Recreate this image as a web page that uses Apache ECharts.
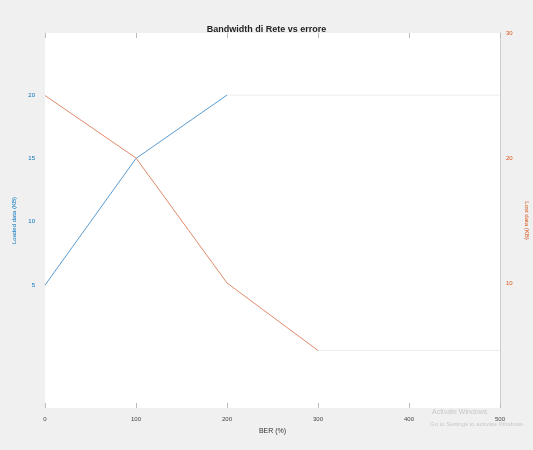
<!DOCTYPE html>
<html><head><meta charset="utf-8">
<script src="https://cdn.jsdelivr.net/npm/echarts@6/dist/echarts.min.js"></script>
<style>html,body{margin:0;padding:0;background:#f0f0f0}#c{width:533px;height:450px}</style>
</head><body><div id="c"></div>
<script>
const xValues = [0, 100, 200, 300, 400, 500];
const xTickLabels = ['0', '100', '200', '300', '400', '500'];
const leftTicks = [5, 10, 15, 20];
const rightTicks = [10, 20, 30];
const leftSeries = [[0, 5], [100, 15], [200, 20]];
const leftPlateau = [[200, 20], [500, 20]];
const rightSeries = [[0, 25], [100, 20], [200, 10], [300, 4.6]];
const rightPlateau = [[300, 4.6], [500, 4.6]];

const chart = echarts.init(document.getElementById('c'));
const tickStyle = {show: true, inside: true, length: 5, lineStyle: {color: '#bbb'}};
chart.setOption({
  backgroundColor: '#f0f0f0',
  animation: false,
  title: {text: 'Bandwidth di Rete vs errore', left: 'center', top: 20,
    textStyle: {fontSize: 9, fontWeight: 'bold', color: '#222', fontFamily: 'Liberation Sans'}},
  grid: {left: 45, right: 33, top: 33, bottom: 42, show: true, backgroundColor: '#fff', borderWidth: 0,
    outerBoundsMode: 'none', containLabel: false},
  xAxis: [{
    type: 'value', min: 0, max: 500, interval: 100, position: 'bottom',
    name: 'BER (%)', nameLocation: 'middle', nameGap: 20,
    nameTextStyle: {fontSize: 7, color: '#333'},
    axisLine: {show: false, onZero: false}, splitLine: {show: false},
    axisTick: tickStyle,
    axisLabel: {fontSize: 6, color: '#444', margin: 8, formatter: v => xTickLabels[xValues.indexOf(v)] ?? ''}
  }, {
    type: 'value', min: 0, max: 500, interval: 100, position: 'top',
    axisLine: {show: false, onZero: false}, splitLine: {show: false},
    axisTick: tickStyle, axisLabel: {show: false}
  }],
  yAxis: [{
    type: 'value', min: -4.7, max: 24.9, position: 'left',
    name: 'Loaded data (KB)', nameLocation: 'middle', nameGap: 14, nameRotate: 90,
    nameTextStyle: {fontSize: 6, color: '#0072BD'},
    axisLine: {show: false, onZero: false}, splitLine: {show: false},
    axisTick: {show: false},
    axisLabel: {fontSize: 6, color: '#0072BD', margin: 10, customValues: leftTicks}
  }, {
    type: 'value', min: 0, max: 30, position: 'right',
    name: 'Lost data (KB)', nameLocation: 'middle', nameGap: 15, nameRotate: -90,
    nameTextStyle: {fontSize: 6, color: '#D95319'},
    axisLine: {show: true, onZero: false, lineStyle: {color: '#ccc'}}, splitLine: {show: false},
    axisTick: {show: false},
    axisLabel: {fontSize: 6, color: '#D95319', margin: 6, customValues: rightTicks}
  }],
  series: [
    {type: 'line', yAxisIndex: 0, data: leftSeries, showSymbol: false,
      lineStyle: {color: '#5b9bd0', width: 1}},
    {type: 'line', yAxisIndex: 0, data: leftPlateau, showSymbol: false,
      lineStyle: {color: '#ececec', width: 1}},
    {type: 'line', yAxisIndex: 1, data: rightSeries, showSymbol: false,
      lineStyle: {color: '#e08a6a', width: 1}},
    {type: 'line', yAxisIndex: 1, data: rightPlateau, showSymbol: false,
      lineStyle: {color: '#ececec', width: 1}}
  ],
  graphic: [
    {type: 'text', left: 432, top: 409, style: {text: 'Activate Windows', fontSize: 7, fill: '#c8c8c8'}},
    {type: 'text', left: 430, top: 421, style: {text: 'Go to Settings to activate Windows.', fontSize: 6, fill: '#c8c8c8'}}
  ]
});
</script></body></html>
